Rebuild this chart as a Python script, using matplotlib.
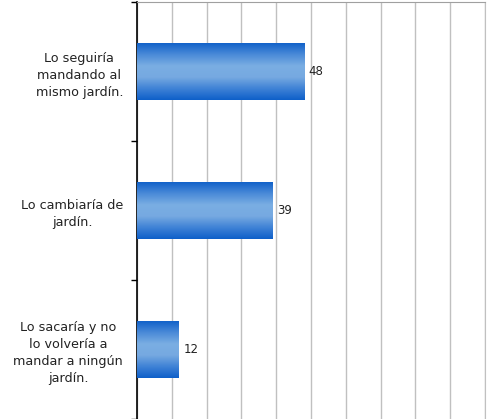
import numpy as np
import matplotlib.pyplot as plt
from matplotlib.colors import LinearSegmentedColormap

# Data
categories = ['Lo seguiría\nmandando al\nmismo jardín.',
              'Lo cambiaría de\njardín.',
              'Lo sacaría y no\nlo volvería a\nmandar a ningún\njardín.']
values = [48, 39, 12]
x_ticks = list(range(0, 101, 10))

fig = plt.figure(figsize=(4.88, 4.19), dpi=100)
ax = fig.add_axes([137 / 488, 0.0, 348 / 488, 1 - 2 / 419])

y = np.arange(len(categories))
bars = ax.barh(y, values, height=0.41, color='none', edgecolor='none', zorder=3)

# vertical gradient inside each bar
cmap = LinearSegmentedColormap.from_list(
    'bar', ['#1262c9', '#4a8ad8', '#7aaee3', '#76a9e1', '#3f82d6', '#0e5fc9'])
grad = np.linspace(0, 1, 256).reshape(-1, 1)
for b in bars:
    x0, y0 = b.get_x(), b.get_y()
    w, h = b.get_width(), b.get_height()
    im = ax.imshow(grad, cmap=cmap, aspect='auto', extent=[x0, x0 + w, y0, y0 + h],
                   origin='lower', zorder=3)
    im.set_clip_path(b)

for yi, v in zip(y, values):
    ax.text(v + 1.3, yi, str(v), va='center', ha='left', fontsize=8.5, color='#222222')

ax.set_xlim(0, 100)
ax.set_ylim(len(categories) - 0.5, -0.5)
ax.set_xticks(x_ticks)
ax.xaxis.grid(True, color='#c0c0c0', linewidth=1)
ax.set_axisbelow(True)
ax.tick_params(axis='x', length=0, labelbottom=False)

ax.set_yticks(y)
ax.set_yticklabels(categories, fontsize=9.2, multialignment='center',
                   color='#222222', linespacing=1.4)
ax.set_yticks(np.arange(-0.5, len(categories), 1), minor=True)
ax.tick_params(axis='y', which='major', length=0, pad=10)
ax.tick_params(axis='y', which='minor', length=4, width=1, direction='out', color='black')

ax.spines['left'].set_color('black')
ax.spines['left'].set_linewidth(1.2)
ax.spines['top'].set_color('#a0a0a0')
ax.spines['right'].set_color('#c0c0c0')
ax.spines['bottom'].set_visible(False)

fig.savefig('out.png', dpi=100)
